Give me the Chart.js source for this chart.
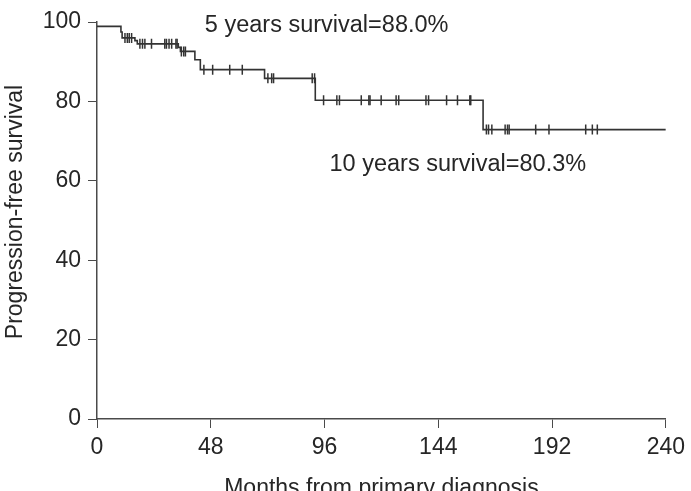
<!DOCTYPE html>
<html lang="en">
<head>
  <meta charset="UTF-8">
  <title>Progression-free survival</title>
  <script src="https://cdn.jsdelivr.net/npm/chart.js"></script>
  <style>
    html, body { margin: 0; padding: 0; overflow: hidden; background: #fff; }
    #wrap { width: 691px; height: 505px; }
  </style>
</head>
<body>
  <div id="wrap"><canvas id="kmChart"></canvas></div>

  <script>
    // step curve: month of each event and survival (%) after it
    const eventMonths = [0, 10.1, 10.6, 16.0, 17.0, 34.3, 35.2, 41.3, 43.6, 70.7, 92.1, 162.9, 240];
    const survival    = [98.9, 97.5, 96.0, 95.3, 94.5, 93.6, 92.6, 90.5, 88.0, 85.8, 80.3, 72.9, 72.9];

    // censored patients (months)
    const censorMonths = [11.8, 12.8, 13.6, 14.6, 18.1, 19.2, 20.2, 23.0, 28.6, 29.3, 30.4, 31.5,
      33.3, 33.8, 35.6, 36.6, 37.3, 45.1, 48.8, 56.0, 61.3, 72.1, 73.7, 74.5, 90.8, 91.8,
      95.6, 101.2, 102.3, 111.5, 114.7, 115.2, 119.9, 126.2, 127.3, 138.8, 139.9, 147.5,
      152.1, 157.3, 157.7, 164.3, 165.2, 166.6, 172.2, 173.2, 173.9, 185.1, 190.7, 206.2,
      209.0, 211.1];

    const xTicks = [0, 48, 96, 144, 192, 240];
    const yTicks = [0, 20, 40, 60, 80, 100];

    const notes = [
      { text: "5 years survival=88.0%", x: 45.5, y: 99.1 },
      { text: "10 years survival=80.3%", x: 98.1, y: 64.1 }
    ];
    const yTitle = "Progression-free survival";

    function survivalAt(t) {
      let s = survival[0];
      for (let i = 0; i < eventMonths.length; i++) {
        if (eventMonths[i] <= t) s = survival[i];
      }
      return s;
    }

    const FAMILY = "'Liberation Sans', Arial, sans-serif";
    const FONT = { family: FAMILY, size: 23 };
    const AXIS = '#4a4a4a';
    const TEXT = '#262626';

    const notePlugin = {
      id: 'notes',
      afterDatasetsDraw(chart) {
        const { ctx, scales } = chart;
        ctx.save();
        ctx.font = "23.5px " + FAMILY;
        ctx.fillStyle = TEXT;
        ctx.textBaseline = 'middle';
        ctx.textAlign = 'left';
        notes.forEach(n => {
          ctx.fillText(n.text, scales.x.getPixelForValue(n.x), scales.y.getPixelForValue(n.y));
        });
        // y axis title, sits a little above the axis centre in the original
        ctx.font = "23px " + FAMILY;
        ctx.textAlign = 'center';
        ctx.translate(16, 212);
        ctx.rotate(-Math.PI / 2);
        ctx.fillText(yTitle, 0, 0);
        ctx.restore();
      }
    };

    new Chart(document.getElementById("kmChart"), {
      type: 'scatter',
      data: {
        datasets: [
          {
            type: 'line',
            data: eventMonths.map((m, i) => ({ x: m, y: survival[i] })),
            stepped: 'before',
            borderColor: '#333',
            borderWidth: 1.6,
            pointRadius: 0,
            fill: false
          },
          {
            data: censorMonths.map(m => ({ x: m, y: survivalAt(m) })),
            pointStyle: 'line',
            rotation: 90,
            radius: 5,
            borderColor: '#333',
            borderWidth: 1.5,
            backgroundColor: '#333'
          }
        ]
      },
      options: {
        responsive: true,
        maintainAspectRatio: false,
        animation: false,
        layout: { padding: { top: 22, right: 22, left: 0, bottom: 0 } },
        plugins: { legend: { display: false }, tooltip: { enabled: false } },
        scales: {
          x: {
            type: 'linear',
            min: 0, max: 240,
            afterBuildTicks: s => { s.ticks = xTicks.map(v => ({ value: v })); },
            afterFit: s => { s.height = 86; },
            ticks: { font: FONT, color: TEXT, padding: 6, maxRotation: 0 },
            grid: { drawOnChartArea: false, drawTicks: true, tickLength: 9, color: AXIS },
            border: { display: true, color: AXIS, width: 1.5 },
            title: { display: true, text: 'Months from primary diagnosis', font: FONT, color: TEXT, padding: { top: 0, bottom: 3 } }
          },
          y: {
            min: 0, max: 100,
            afterBuildTicks: s => { s.ticks = yTicks.map(v => ({ value: v })); },
            afterFit: s => { s.width = 97; },
            ticks: { font: FONT, color: TEXT, padding: 7 },
            grid: { drawOnChartArea: false, drawTicks: true, tickLength: 9, color: AXIS },
            border: { display: true, color: AXIS, width: 1.5 }
          }
        }
      },
      plugins: [notePlugin]
    });
  </script>
</body>
</html>
